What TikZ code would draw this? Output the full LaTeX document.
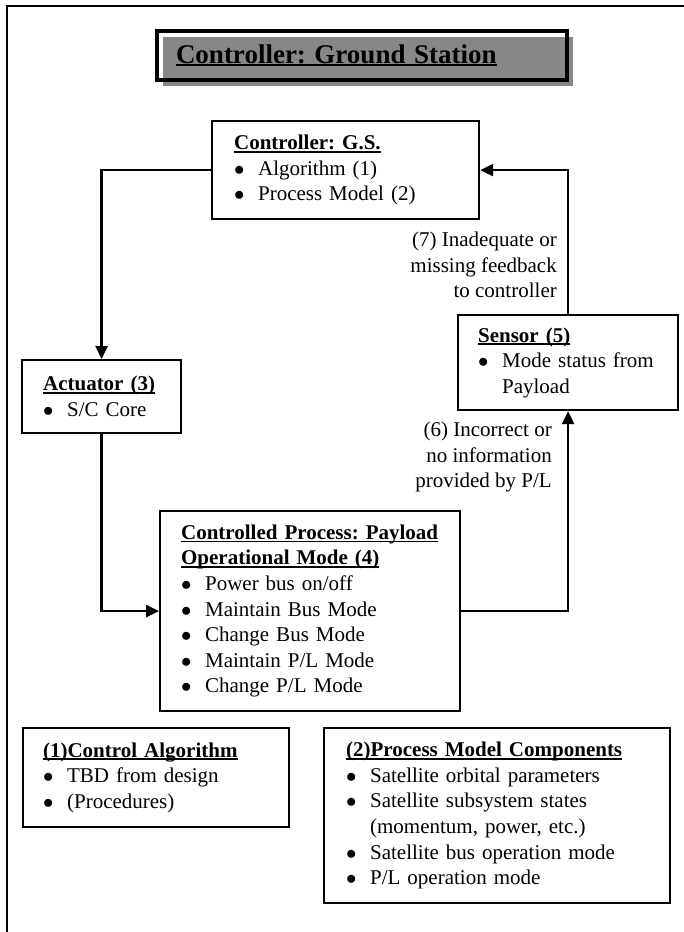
\documentclass[tikz,border=0pt]{standalone}
\usepackage{fontspec}
\setmainfont{Liberation Serif}
\usetikzlibrary{arrows.meta,shadows}

\newcommand{\bodyfont}{\fontsize{21pt}{25.6pt}\selectfont\frenchspacing\hyphenpenalty=10000\exhyphenpenalty=10000}
\newcommand{\titlefont}{\fontsize{27pt}{32pt}\selectfont\frenchspacing\spaceskip=8.5pt}
\newcommand{\ulin}[2][1.6pt]{\setbox0\hbox{#2}\rlap{\rule[-3pt]{\wd0}{#1}}\box0}
\newcommand{\hdr}[1]{\noindent\ulin{\textbf{#1}}}
\newcommand{\bitem}[1]{\par\hangindent=24pt\hangafter=1\noindent\makebox[24pt][l]{$\bullet$}#1}

\begin{document}
\begin{tikzpicture}[x=1pt, y=-1pt,
    blk/.style={draw, line width=2.2pt, anchor=north west, align=left, inner ysep=0pt, font=\bodyfont},
    lbl/.style={anchor=east, align=right, inner sep=0pt, font=\bodyfont},
    lnk/.style={line width=2.4pt, -{Triangle[length=13pt,width=12pt]}}]
   \useasboundingbox (0,0) rectangle (684,932);
   % frame of the page
   \draw[line width=2.2pt] (700,6) -- (7,6) -- (7,950);
   % title
   \node[draw, line width=4pt, anchor=north west, minimum width=410pt, minimum height=49pt,
         text width=372pt, inner xsep=19pt, inner ysep=0pt, align=left,
         drop shadow={shadow xshift=6pt, shadow yshift=-6pt, fill=black!47, opacity=1}]
         (ttl) at (155,29) {\titlefont\noindent\ulin[2pt]{\textbf{Controller: Ground Station}}};
   % control loop
   \node[blk, minimum width=267pt, minimum height=98pt, text width=223pt, inner xsep=22pt]
         (gs) at (211,120) {\hdr{Controller: G.S.}\bitem{Algorithm (1)}\bitem{Process Model (2)}};
   \node[blk, minimum width=159pt, minimum height=73pt, text width=117pt, inner xsep=21pt]
         (act) at (21,359) {\hdr{Actuator (3)}\bitem{S/C Core}};
   \node[blk, minimum width=300pt, minimum height=200pt, text width=258pt, inner xsep=21pt]
         (proc) at (159,510) {\hdr{Controlled Process: Payload}\par\hdr{Operational Mode (4)}%
         \bitem{Power bus on/off}\bitem{Maintain Bus Mode}\bitem{Change Bus Mode}%
         \bitem{Maintain P/L Mode}\bitem{Change P/L Mode}};
   \node[blk, minimum width=220pt, minimum height=95pt, text width=180pt, inner xsep=20pt]
         (sens) at (457,314) {\hdr{Sensor (5)}%
         {\rightskip=0pt\parfillskip=0pt plus 1fil\bitem{Mode status from Payload}\par}};
   \draw[lnk] (gs.west) -| (act.north);
   \draw[lnk] (act.south) |- (proc.west);
   \draw[lnk] (proc.east) -| (sens.south);
   \draw[lnk] (sens.north) |- (gs.east);
   \node[lbl] (fb) at (557,265) {(7) Inadequate or\\missing feedback\\to controller};
   \node[lbl] (pl) at (552,457) {(6) Incorrect or\\no information\\provided by P/L};
   % legend boxes
   \node[blk, minimum width=266pt, minimum height=99pt, text width=226pt, inner xsep=20pt]
         (alg) at (22,727) {\hdr{(1)Control Algorithm}\bitem{TBD from design}\bitem{(Procedures)}};
   \node[blk, minimum width=346pt, minimum height=175pt, text width=302pt, inner xsep=22pt]
         (pm) at (323,727) {\hdr{(2)Process Model Components}\bitem{Satellite orbital parameters}%
         \bitem{Satellite subsystem states (momentum, power, etc.)}%
         \bitem{Satellite bus operation mode}\bitem{P/L operation mode}};
\end{tikzpicture}
\end{document}
